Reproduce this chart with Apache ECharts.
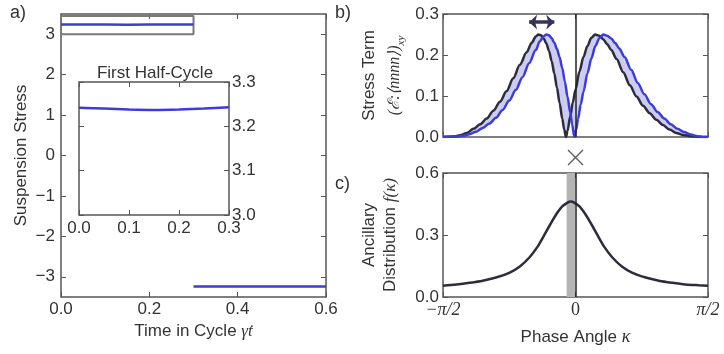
<!DOCTYPE html>
<html>
<head>
<meta charset="utf-8">
<script src="https://cdn.jsdelivr.net/npm/echarts@6/dist/echarts.min.js"></script>
<style>
  html, body { margin: 0; padding: 0; background: #fff; }
  #chart { width: 724px; height: 354px; }
</style>
</head>
<body>
<div id="chart"></div>
<script>
// panel a: suspension stress over one cycle
const firstHalfT = [0, 0.05, 0.1, 0.15, 0.2, 0.25, 0.3];
const firstHalfStress = [3.242, 3.240, 3.238, 3.237, 3.238, 3.240, 3.243];
const secondHalfT = [0.3, 0.4, 0.5, 0.6];
const secondHalfStress = [-3.24, -3.24, -3.24, -3.24];
const boxT = [0, 0.3, 0.3, 0, 0];
const boxStress = [3.0, 3.0, 3.45, 3.45, 3.0];
const stressTicks = [-3, -2, -1, 0, 1, 2, 3];

// panel b: stress term vs phase angle (kappa in units of pi/2)
const darkK = [-1, -0.92, -0.87, -0.82, -0.77, -0.72, -0.67, -0.62, -0.57, -0.52, -0.47, -0.42, -0.37, -0.33, -0.30, -0.28, -0.26, -0.24, -0.22, -0.20, -0.18, -0.16, -0.14, -0.12, -0.10, -0.085, -0.072, -0.06, -0.04, -0.02, 0, 0.03, 0.06, 0.09, 0.12, 0.148, 0.18, 0.21, 0.24, 0.27, 0.31, 0.36, 0.41, 0.46, 0.51, 0.56, 0.61, 0.66, 0.71, 0.76, 0.81, 0.87, 0.93, 1];
const darkS = [0, 0.001, 0.004, 0.010, 0.020, 0.031, 0.045, 0.064, 0.086, 0.112, 0.143, 0.176, 0.206, 0.230, 0.245, 0.250, 0.248, 0.240, 0.228, 0.210, 0.185, 0.155, 0.120, 0.083, 0.045, 0.018, 0, 0.015, 0.050, 0.085, 0.115, 0.160, 0.195, 0.222, 0.242, 0.250, 0.247, 0.238, 0.226, 0.212, 0.190, 0.158, 0.126, 0.099, 0.076, 0.058, 0.042, 0.029, 0.018, 0.010, 0.005, 0.002, 0, 0];
const blueK = [-1, -0.90, -0.85, -0.80, -0.75, -0.70, -0.65, -0.60, -0.55, -0.50, -0.45, -0.40, -0.35, -0.30, -0.27, -0.24, -0.218, -0.20, -0.18, -0.16, -0.14, -0.12, -0.10, -0.08, -0.06, -0.04, -0.025, -0.009, 0.005, 0.02, 0.04, 0.06, 0.09, 0.12, 0.15, 0.18, 0.21, 0.24, 0.27, 0.30, 0.33, 0.37, 0.42, 0.47, 0.52, 0.57, 0.62, 0.67, 0.72, 0.77, 0.82, 0.87, 0.92, 0.96, 1];
const blueS = [0, 0.001, 0.003, 0.007, 0.013, 0.022, 0.033, 0.047, 0.066, 0.089, 0.115, 0.146, 0.180, 0.212, 0.233, 0.246, 0.250, 0.248, 0.241, 0.230, 0.215, 0.195, 0.168, 0.135, 0.098, 0.060, 0.030, 0, 0.018, 0.045, 0.080, 0.110, 0.155, 0.192, 0.222, 0.241, 0.250, 0.247, 0.240, 0.229, 0.216, 0.195, 0.164, 0.132, 0.104, 0.080, 0.061, 0.045, 0.031, 0.020, 0.012, 0.006, 0.002, 0, 0];
const arrowK = [-0.35, -0.16];
const arrowS = 0.28;

// panel c: ancillary distribution
const distK = [-1, -0.9, -0.8, -0.7, -0.6, -0.5, -0.42, -0.35, -0.29, -0.24, -0.19, -0.14, -0.10, -0.06, -0.036, -0.01, 0.03, 0.07, 0.12, 0.17, 0.22, 0.28, 0.35, 0.43, 0.53, 0.63, 0.73, 0.83, 0.93, 1];
const distF = [0.055, 0.061, 0.069, 0.079, 0.094, 0.117, 0.148, 0.190, 0.240, 0.295, 0.352, 0.405, 0.438, 0.457, 0.462, 0.457, 0.438, 0.405, 0.352, 0.295, 0.240, 0.190, 0.148, 0.117, 0.094, 0.079, 0.069, 0.061, 0.057, 0.055];
const shiftBand = [-0.067, -0.003];
const phaseLabels = { '-1': '−π/2', '0': '0', '1': 'π/2' };

const FONT = 'Liberation Sans';
const INK = '#333';
const FRAME = '#555';
const BLUE = '#3c3cd8';
const DARK = '#2c2c3e';

const zip = (xs, ys) => xs.map((x, i) => [x, ys[i]]);
const minus = v => String(v).replace('-', '−');

// one value axis with inward ticks, optionally labelled
function axis(gridIndex, position, min, max, interval, label, more) {
    return Object.assign({
        type: 'value', gridIndex, position, min, max, interval,
        axisLine: {show: false, onZero: false},
        splitLine: {show: false},
        axisTick: {show: true, inside: true, length: 5, lineStyle: {color: FRAME, width: 1}},
        axisLabel: Object.assign({show: !!label, color: INK, fontSize: 17, fontFamily: FONT, margin: 5}, label || {})
    }, more || {});
}

const chart = echarts.init(document.getElementById('chart'));
const option = {
    animation: false,
    backgroundColor: '#fff',
    textStyle: {fontFamily: FONT, color: INK},
    grid: [
        {left: 61, top: 14, width: 265, height: 283, show: true, borderColor: FRAME, borderWidth: 1.5, backgroundColor: 'transparent'},
        {left: 79, top: 82, width: 150, height: 133, show: true, borderColor: FRAME, borderWidth: 1.5, backgroundColor: '#fff'},
        {left: 443, top: 14, width: 265, height: 123, show: true, borderColor: FRAME, borderWidth: 1.5, backgroundColor: 'transparent'},
        {left: 443, top: 173, width: 265, height: 124, show: true, borderColor: FRAME, borderWidth: 1.5, backgroundColor: 'transparent'}
    ],
    xAxis: [
        axis(0, 'bottom', 0, 0.6, 0.2, {formatter: v => v.toFixed(1), margin: 4}, {
            name: 'Time in Cycle {it|γ̇t}', nameLocation: 'middle', nameGap: 24,
            nameTextStyle: {fontSize: 17, color: INK, rich: {it: {fontSize: 17, fontFamily: 'Liberation Serif', fontStyle: 'italic', color: INK}}}
        }),
        axis(0, 'top', 0, 0.6, 0.2, null),
        axis(1, 'bottom', 0, 0.3, 0.1, {formatter: v => v.toFixed(1), margin: 5}),
        axis(1, 'top', 0, 0.3, 0.1, null),
        axis(2, 'bottom', -1, 1, 1, null),
        axis(2, 'top', -1, 1, 1, null),
        axis(3, 'bottom', -1, 1, 1, {
            formatter: v => v === 0 ? '{n|0}' : '{p|' + phaseLabels[String(v)] + '}',
            rich: {
                n: {fontFamily: 'Liberation Serif', fontSize: 18, color: INK},
                p: {fontFamily: 'Liberation Serif', fontStyle: 'italic', fontSize: 18, color: INK}
            }, margin: 4
        }, {
            name: 'Phase Angle {it|κ}', nameLocation: 'middle', nameGap: 31,
            nameTextStyle: {fontSize: 17, color: INK, rich: {it: {fontSize: 18, fontFamily: 'Liberation Serif', fontStyle: 'italic', color: INK}}}
        }),
        axis(3, 'top', -1, 1, 1, null)
    ],
    yAxis: [
        axis(0, 'left', -3.5, 3.5, 1, {formatter: minus, customValues: stressTicks, margin: 6}, {
            axisTick: {show: true, inside: true, length: 5, customValues: stressTicks, lineStyle: {color: FRAME}},
            name: 'Suspension Stress', nameLocation: 'middle', nameGap: 31, nameRotate: 90,
            nameTextStyle: {fontSize: 17, color: INK}
        }),
        axis(0, 'right', -3.5, 3.5, 1, null, {
            axisTick: {show: true, inside: true, length: 5, customValues: stressTicks, lineStyle: {color: FRAME}}
        }),
        axis(1, 'right', 3.0, 3.3, 0.1, {formatter: v => v.toFixed(1), margin: 3}),
        axis(1, 'left', 3.0, 3.3, 0.1, null),
        axis(2, 'left', 0, 0.3, 0.1, {formatter: v => v.toFixed(1), margin: 4}, {
            name: 'Stress Term\n{m|(ℰ:⟨nnnn⟩)}{s|xy}', nameLocation: 'middle', nameGap: 36, nameRotate: 90,
            nameTextStyle: {
                fontSize: 17, color: INK, lineHeight: 25,
                rich: {
                    m: {fontSize: 16, fontFamily: 'Liberation Serif', fontStyle: 'italic', color: INK, lineHeight: 25},
                    s: {fontSize: 11, fontFamily: 'Liberation Serif', fontStyle: 'italic', color: INK, verticalAlign: 'bottom', lineHeight: 25}
                }
            }
        }),
        axis(2, 'right', 0, 0.3, 0.1, null),
        axis(3, 'left', 0, 0.6, 0.3, {formatter: v => v.toFixed(1), margin: 4}, {
            name: 'Ancillary\nDistribution {it|f(κ)}', nameLocation: 'middle', nameGap: 42, nameRotate: 90,
            nameTextStyle: {
                fontSize: 17, color: INK, lineHeight: 21,
                rich: {it: {fontSize: 17, fontFamily: 'Liberation Serif', fontStyle: 'italic', color: INK, lineHeight: 21}}
            }
        }),
        axis(3, 'right', 0, 0.6, 0.3, null)
    ],
    graphic: [
        {type: 'text', left: 10, top: 4, style: {text: 'a)', fontSize: 18, fontFamily: FONT, fill: INK}},
        {type: 'text', left: 335, top: 4, style: {text: 'b)', fontSize: 18, fontFamily: FONT, fill: INK}},
        {type: 'text', left: 335, top: 175, style: {text: 'c)', fontSize: 18, fontFamily: FONT, fill: INK}},
        {type: 'text', x: 155, y: 73, style: {text: 'First Half-Cycle', fontSize: 17, fontFamily: FONT, fill: INK, align: 'center', verticalAlign: 'middle'}}
    ],
    series: [
        {
            type: 'line', xAxisIndex: 0, yAxisIndex: 0, data: zip(boxT, boxStress),
            symbol: 'none', lineStyle: {color: '#7a7a7a', width: 2}, silent: true
        },
        {
            type: 'line', xAxisIndex: 0, yAxisIndex: 0, data: zip(firstHalfT, firstHalfStress),
            symbol: 'none', lineStyle: {color: BLUE, width: 2.5}
        },
        {
            type: 'line', xAxisIndex: 0, yAxisIndex: 0, data: zip(secondHalfT, secondHalfStress),
            symbol: 'none', lineStyle: {color: BLUE, width: 2.5}
        },
        {
            type: 'line', xAxisIndex: 2, yAxisIndex: 2, data: zip(firstHalfT, firstHalfStress),
            symbol: 'none', smooth: 0.3, lineStyle: {color: BLUE, width: 2.5}
        },
        {
            // shaded band between the two stress-term curves
            type: 'custom', xAxisIndex: 4, yAxisIndex: 4, data: [[0, 0]], silent: true, z: 1,
            renderItem: (params, api) => {
                const upper = darkK.map((k, i) => api.coord([k, darkS[i]]));
                const lower = blueK.map((k, i) => api.coord([k, blueS[i]])).reverse();
                return {type: 'polygon', shape: {points: upper.concat(lower), smooth: 0.3}, style: {fill: '#cdcdf3'}};
            }
        },
        {
            type: 'line', xAxisIndex: 4, yAxisIndex: 4, data: zip(darkK, darkS), z: 3,
            symbol: 'none', smooth: 0.3, smoothMonotone: 'x', lineStyle: {color: DARK, width: 2.5},
            markLine: {
                silent: true, symbol: 'none', label: {show: false},
                lineStyle: {color: '#222', width: 1.5, type: 'solid'},
                data: [{xAxis: 0}]
            }
        },
        {
            type: 'line', xAxisIndex: 4, yAxisIndex: 4, data: zip(blueK, blueS), z: 4,
            symbol: 'none', smooth: 0.3, smoothMonotone: 'x', lineStyle: {color: BLUE, width: 2.5},
            markLine: {
                silent: true, symbol: ['arrow', 'arrow'], symbolSize: [11, 8], label: {show: false},
                lineStyle: {color: '#34345a', width: 3.5, type: 'solid'},
                data: [[{coord: [arrowK[0], arrowS]}, {coord: [arrowK[1], arrowS]}]]
            }
        },
        {
            type: 'line', xAxisIndex: 6, yAxisIndex: 6, data: zip(distK, distF), z: 3,
            symbol: 'none', smooth: 0.3, lineStyle: {color: DARK, width: 2.5},
            markArea: {
                silent: true, itemStyle: {color: '#b4b4b4'},
                data: [[{xAxis: shiftBand[0]}, {xAxis: shiftBand[1]}]]
            },
            markLine: {
                silent: true, symbol: 'none', label: {show: false},
                lineStyle: {color: '#222', width: 1.5, type: 'solid'},
                data: [{xAxis: 0}]
            }
        },
        {
            type: 'scatter', xAxisIndex: 6, yAxisIndex: 6, data: [[0, 0.675]], clip: false, silent: true,
            symbol: 'path://M0,0L10,10M10,0L0,10', symbolSize: 15,
            itemStyle: {color: 'none', borderColor: '#333', borderWidth: 1.4}
        }
    ]
};
chart.setOption(option);
</script>
</body>
</html>
